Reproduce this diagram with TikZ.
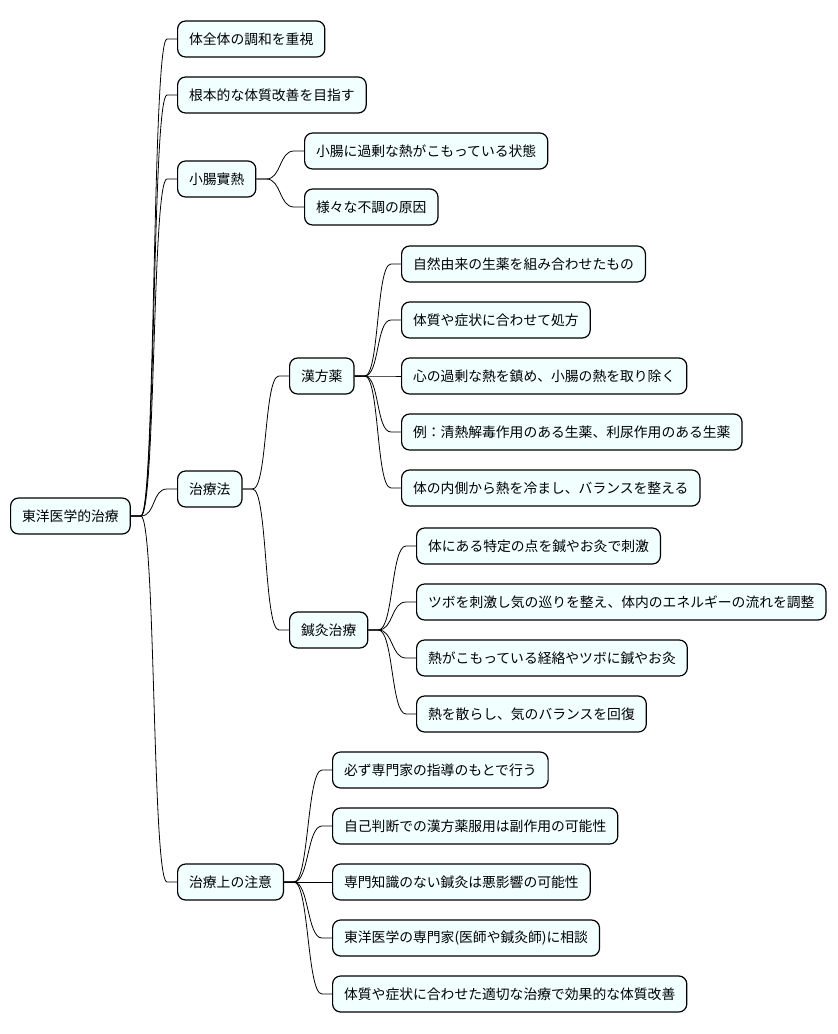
\documentclass[tikz,border=0pt]{standalone}
\usepackage{fontspec}
\setmainfont{Noto Sans CJK JP}
\usetikzlibrary{calc}
\definecolor{boxfill}{HTML}{F1FFFF}

\tikzset{
  topic/.style={draw=black, line width=1.2pt, fill=boxfill, rounded corners=8pt,
    minimum height=36pt, inner xsep=11.5pt, inner ysep=0pt, anchor=west,
    font=\fontsize{13.8}{16}\selectfont},
  branch/.style={line width=0.8pt,
    to path={-- ++(10pt,0) .. controls +(15pt,0) and +(-15pt,0) .. ($(\tikztotarget.west)+(-10pt,0)$) -- (\tikztotarget.west)}}
}

\begin{document}
\begin{tikzpicture}[x=1pt,y=-1pt]
\useasboundingbox (0,0) rectangle (838,1034);

% root
\node[topic] (root) at (10,516) {東洋医学的治療};

% first level
\node[topic] (harmony) at (177,39) {体全体の調和を重視};
\node[topic] (root_cause) at (177,95) {根本的な体質改善を目指す};
\node[topic] (heat) at (177,179) {小腸實熱};
\node[topic] (method) at (177,489) {治療法};
\node[topic] (caution) at (177,882) {治療上の注意};

% 小腸實熱
\node[topic] (heat_state) at (304,151) {小腸に過剰な熱がこもっている状態};
\node[topic] (heat_cause) at (304,207) {様々な不調の原因};

% 治療法
\node[topic] (kampo) at (289,376) {漢方薬};
\node[topic] (acu) at (289,630) {鍼灸治療};

\node[topic] (kampo_a) at (401,264) {自然由来の生薬を組み合わせたもの};
\node[topic] (kampo_b) at (401,320) {体質や症状に合わせて処方};
\node[topic] (kampo_c) at (401,376) {心の過剰な熱を鎮め、小腸の熱を取り除く};
\node[topic] (kampo_d) at (401,432) {例：清熱解毒作用のある生薬、利尿作用のある生薬};
\node[topic] (kampo_e) at (401,488) {体の内側から熱を冷まし、バランスを整える};

\node[topic] (acu_a) at (416,546) {体にある特定の点を鍼やお灸で刺激};
\node[topic] (acu_b) at (416,602) {ツボを刺激し気の巡りを整え、体内のエネルギーの流れを調整};
\node[topic] (acu_c) at (416,658) {熱がこもっている経絡やツボに鍼やお灸};
\node[topic] (acu_d) at (416,714) {熱を散らし、気のバランスを回復};

% 治療上の注意
\node[topic] (caution_a) at (332,770) {必ず専門家の指導のもとで行う};
\node[topic] (caution_b) at (332,826) {自己判断での漢方薬服用は副作用の可能性};
\node[topic] (caution_c) at (332,882) {専門知識のない鍼灸は悪影響の可能性};
\node[topic] (caution_d) at (332,938) {東洋医学の専門家(医師や鍼灸師)に相談};
\node[topic] (caution_e) at (332,994) {体質や症状に合わせた適切な治療で効果的な体質改善};

% connectors
\draw[branch] (root.east) to (harmony);
\draw[branch] (root.east) to (root_cause);
\draw[branch] (root.east) to (heat);
\draw[branch] (root.east) to (method);
\draw[branch] (root.east) to (caution);

\draw[branch] (heat.east) to (heat_state);
\draw[branch] (heat.east) to (heat_cause);

\draw[branch] (method.east) to (kampo);
\draw[branch] (method.east) to (acu);

\draw[branch] (kampo.east) to (kampo_a);
\draw[branch] (kampo.east) to (kampo_b);
\draw[branch] (kampo.east) to (kampo_c);
\draw[branch] (kampo.east) to (kampo_d);
\draw[branch] (kampo.east) to (kampo_e);

\draw[branch] (acu.east) to (acu_a);
\draw[branch] (acu.east) to (acu_b);
\draw[branch] (acu.east) to (acu_c);
\draw[branch] (acu.east) to (acu_d);

\draw[branch] (caution.east) to (caution_a);
\draw[branch] (caution.east) to (caution_b);
\draw[branch] (caution.east) to (caution_c);
\draw[branch] (caution.east) to (caution_d);
\draw[branch] (caution.east) to (caution_e);
\end{tikzpicture}
\end{document}
